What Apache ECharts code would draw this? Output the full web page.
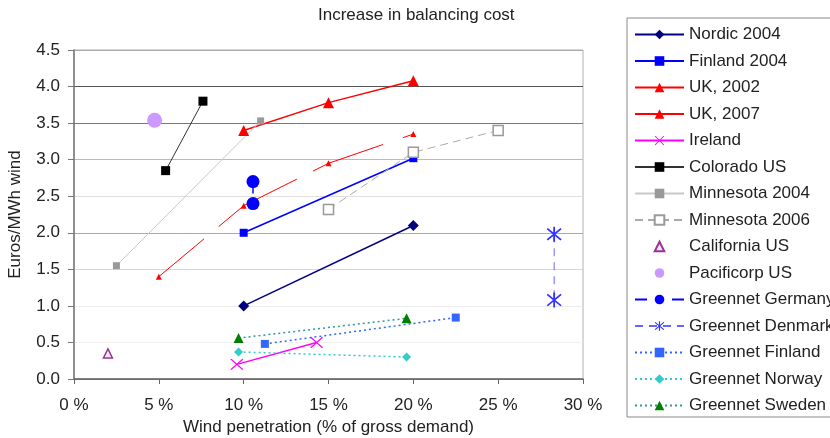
<!DOCTYPE html>
<html><head><meta charset="utf-8">
<script src="https://cdn.jsdelivr.net/npm/echarts@6/dist/echarts.min.js"></script>
<style>html,body{margin:0;padding:0;background:#fff}#c{width:830px;height:438px}</style>
</head><body><div id="c"></div>
<script>
// ---- text ----
const titleText = 'Increase in balancing cost';
const xName = 'Wind penetration (% of gross demand)';
const yName = 'Euros/MWh wind';
// ---- axis ticks ----
const xMin = 0, xMax = 30, xStep = 5;   // labels "0 %" ... "30 %"
const yMin = 0, yMax = 4.5, yStep = 0.5; // labels "0.0" ... "4.5"
// ---- series names ----
const names = ['Nordic 2004','Finland 2004','UK, 2002','UK, 2007','Ireland','Colorado US','Minnesota 2004','Minnesota 2006','California US','Pacificorp US','Greennet Germany','Greennet Denmark','Greennet Finland','Greennet Norway','Greennet Sweden'];
// ---- data (x = wind penetration %, y = Euros/MWh) ----
const nordicX = [10, 20],            nordicY = [1.0, 2.1];
const finlandX = [10, 20],           finlandY = [2.0, 3.02];
const uk2002X = [10, 15, 20],        uk2002Y = [3.4, 3.78, 4.08];
const uk2007X = [5, 10, 15, 20],     uk2007Y = [1.4, 2.37, 2.95, 3.35];
const irelandX = [9.6, 14.3],        irelandY = [0.2, 0.5];
const coloradoX = [5.4, 7.6],        coloradoY = [2.85, 3.8];
const minn2004X = [2.5, 11],         minn2004Y = [1.55, 3.53];
const minn2006X = [15, 20, 25],      minn2006Y = [2.32, 3.1, 3.4];
const californiaX = [2],             californiaY = [0.35];
const pacificorpX = [4.75],          pacificorpY = [3.54];
const gGermanyX = [10.55, 10.55],    gGermanyY = [2.7, 2.4];
const gDenmarkX = [28.3, 28.3],      gDenmarkY = [1.98, 1.08];
const gFinlandX = [11.25, 22.5],     gFinlandY = [0.48, 0.84];
const gNorwayX = [9.7, 19.6],        gNorwayY = [0.37, 0.3];
const gSwedenX = [9.7, 19.6],        gSwedenY = [0.56, 0.83];

const FONT = "'Liberation Sans', Arial, sans-serif";
const TXT = '#222';
const pts = (xs, ys) => xs.map((x, i) => [x, ys[i]]);
const crossPath = 'path://M0 1.2 L0.8 0.6 L10 8.8 L9.2 9.4 Z M0.8 9.4 L0 8.8 L9.2 0.6 L10 1.2 Z';
const starPath = 'path://M4.4 0 L5.6 0 L5.6 10 L4.4 10 Z M0 1.6 L0.8 0.8 L10 8.4 L9.2 9.2 Z M0.8 9.2 L0 8.4 L9.2 0.8 L10 1.6 Z';

function lineSeries(name, data, o) {
  return {
    name, type: 'line', data, z: o.z || 2,
    symbol: o.symbol, symbolSize: o.size, showSymbol: true, symbolKeepAspect: true,
    itemStyle: Object.assign({ color: o.color }, o.item || {}),
    lineStyle: { color: o.lineColor || o.color, width: o.width == null ? 1.5 : o.width, type: o.type || 'solid', opacity: o.lineOpacity == null ? 1 : o.lineOpacity },
    emphasis: { disabled: true }, animation: false
  };
}

const series = [
  lineSeries(names[0], pts(nordicX, nordicY), { symbol: 'diamond', size: 11, color: '#000080', width: 1.5 }),
  lineSeries(names[1], pts(finlandX, finlandY), { symbol: 'rect', size: 8, color: '#0000FF', width: 1.5 }),
  lineSeries(names[2], pts(uk2002X, uk2002Y), { symbol: 'triangle', size: 11, color: '#FF0000', width: 1.5 }),
  lineSeries(names[3], pts(uk2007X, uk2007Y), { symbol: 'triangle', size: 6, color: '#FF0000', width: 1, type: [59, 19, 92, 18, 75, 21, 60] }),
  lineSeries(names[4], pts(irelandX, irelandY), { symbol: crossPath, size: 13, color: '#FF00FF', width: 1.5 }),
  lineSeries(names[5], pts(coloradoX, coloradoY), { symbol: 'rect', size: 9, color: '#000000', lineColor: '#333', width: 1 }),
  lineSeries(names[6], pts(minn2004X, minn2004Y), { symbol: 'rect', size: 7, color: '#999999', lineColor: '#c8c8c8', width: 1 }),
  lineSeries(names[7], pts(minn2006X, minn2006Y), { symbol: 'rect', size: 10, color: '#ffffff', lineColor: '#aaaaaa', width: 1, type: [8, 5], item: { borderColor: '#999', borderWidth: 1.5 } }),
  lineSeries(names[8], pts(californiaX, californiaY), { symbol: 'triangle', size: 9, color: '#f6e6f6', lineColor: '#ffffff', width: 0, lineOpacity: 0, item: { borderColor: '#993399', borderWidth: 1.5 } }),
  lineSeries(names[9], pts(pacificorpX, pacificorpY), { symbol: 'circle', size: 15, color: '#CC99FF', lineColor: '#ffffff', width: 0, lineOpacity: 0 }),
  lineSeries(names[10], pts(gGermanyX, gGermanyY), { symbol: 'circle', size: 13, color: '#0000FF', width: 1.5, type: [12, 25] }),
  lineSeries(names[11], pts(gDenmarkX, gDenmarkY), { symbol: starPath, size: 15, color: '#3333FF', lineColor: '#6666FF', width: 1, type: [8, 6] }),
  lineSeries(names[12], pts(gFinlandX, gFinlandY), { symbol: 'rect', size: 8, color: '#3366FF', width: 1.5, type: [2, 3] }),
  lineSeries(names[13], pts(gNorwayX, gNorwayY), { symbol: 'diamond', size: 9, color: '#33CCCC', width: 1.5, type: [2, 3] }),
  lineSeries(names[14], pts(gSwedenX, gSwedenY), { symbol: 'triangle', size: 10, color: '#008000', lineColor: '#339999', width: 1.5, type: [2, 3] })
];

const chart = echarts.init(document.getElementById('c'), null, { renderer: 'canvas' });
chart.setOption({
  backgroundColor: '#fff',
  animation: false,
  textStyle: { fontFamily: FONT },
  title: {
    text: titleText, left: 318, top: 7, padding: 0,
    textStyle: { fontSize: 17, fontWeight: 'normal', color: TXT, fontFamily: FONT }
  },
  grid: {
    left: 74, right: 247, top: 50, bottom: 59, containLabel: false, outerBoundsMode: 'none',
    show: true, borderColor: '#b0b0b0', borderWidth: 1, backgroundColor: 'transparent'
  },
  xAxis: {
    type: 'value', min: xMin, max: xMax, interval: xStep,
    name: xName, nameLocation: 'middle', nameGap: 38,
    nameTextStyle: { fontSize: 17, color: TXT, fontFamily: FONT },
    axisLine: { show: true, onZero: false, lineStyle: { color: '#666', width: 1.5 } },
    axisTick: { show: true, length: 5, lineStyle: { color: '#666' } },
    axisLabel: { margin: 18, fontSize: 17, color: TXT, fontFamily: FONT, formatter: v => v + ' %' },
    splitLine: { show: false }
  },
  yAxis: {
    type: 'value', min: yMin, max: yMax, interval: yStep,
    name: yName, nameLocation: 'middle', nameGap: 50, nameRotate: 90,
    nameTextStyle: { fontSize: 17, color: TXT, fontFamily: FONT },
    axisLine: { show: true, lineStyle: { color: '#777', width: 1.5 } },
    axisTick: { show: true, length: 6, lineStyle: { color: '#777' } },
    axisLabel: { margin: 14, fontSize: 17, color: TXT, fontFamily: FONT, formatter: v => v.toFixed(1) },
    splitLine: { show: true, lineStyle: { width: 1.2, color: ['#888', '#f2f2f2', '#ececec', '#d8d8d8', '#aaaaaa', '#e0e0e0', '#bbbbbb', '#777777', '#555555', '#aaaaaa'] } }
  },
  legend: {
    orient: 'vertical', left: 627, top: 18, padding: [8, 200, 3, 7],
    itemWidth: 49, itemHeight: 12, itemGap: 9.5,
    borderColor: '#888', borderWidth: 1, backgroundColor: '#fff',
    selectedMode: false, symbolKeepAspect: true,
    textStyle: { fontSize: 17, color: TXT, fontFamily: FONT, lineHeight: 17 },
    data: names
  },
  series
});
</script></body></html>
